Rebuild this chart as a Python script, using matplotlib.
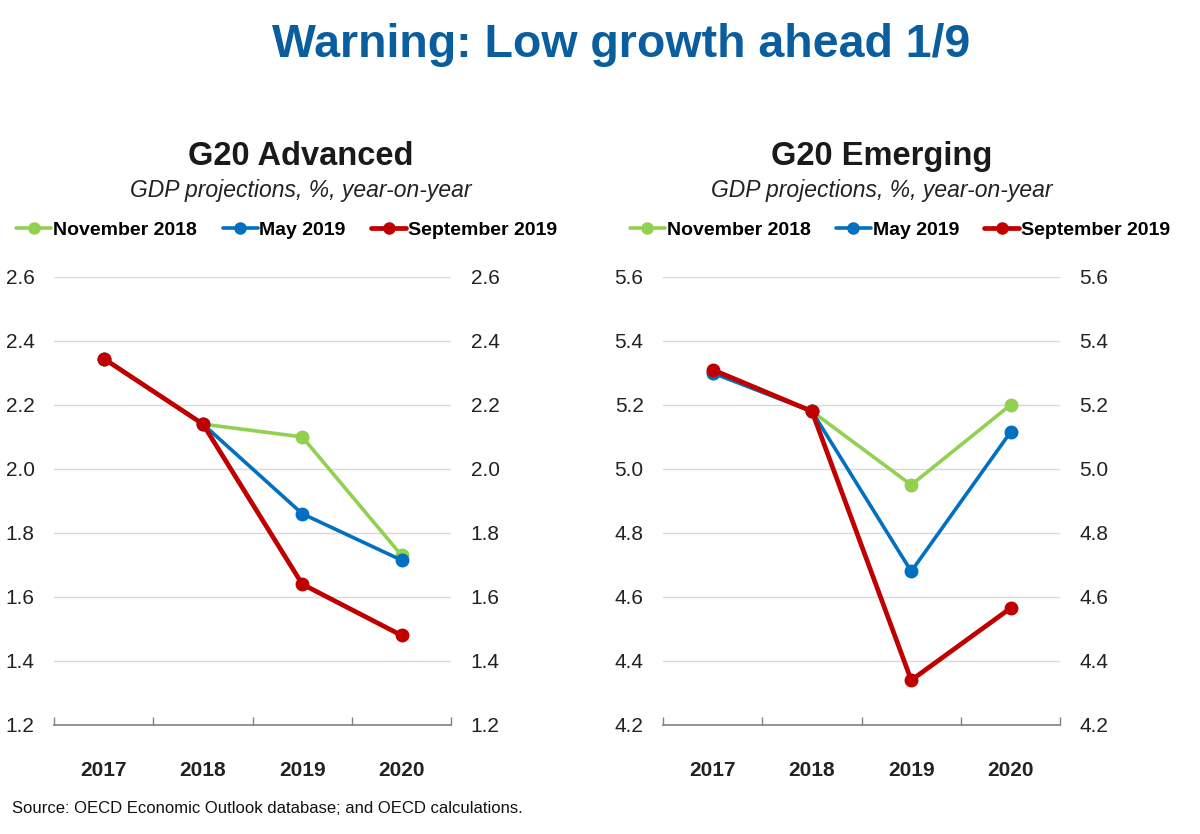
import matplotlib
matplotlib.use("Agg")
import matplotlib.pyplot as plt
from matplotlib.ticker import FixedLocator

NARROW = ["Liberation Sans Narrow", "Liberation Sans", "DejaVu Sans"]
WIDE = ["Liberation Sans", "DejaVu Sans"]

years = ["2017", "2018", "2019", "2020"]
series_names = ["November 2018", "May 2019", "September 2019"]

adv_nov18 = [2.345, 2.14, 2.10, 1.73]
adv_may19 = [2.345, 2.14, 1.86, 1.715]
adv_sep19 = [2.345, 2.14, 1.64, 1.48]

emg_nov18 = [5.30, 5.18, 4.95, 5.20]
emg_may19 = [5.30, 5.18, 4.68, 5.115]
emg_sep19 = [5.31, 5.18, 4.34, 4.565]

adv_ticks = [1.2, 1.4, 1.6, 1.8, 2.0, 2.2, 2.4, 2.6]
emg_ticks = [4.2, 4.4, 4.6, 4.8, 5.0, 5.2, 5.4, 5.6]

colors = ["#92D050", "#0070C0", "#C00000"]
widths = [2.6, 2.6, 3.4]

fig = plt.figure(figsize=(12, 8.34), dpi=100)

fig.text(0.518, 0.946, "Warning: Low growth ahead 1/9", ha="center", va="center",
         fontsize=33.5, fontweight="bold", color="#0B5E9E", family=WIDE)


def panel(left, title, cx, legx, data, ticks):
    ax = fig.add_axes([left, 0.1307, 0.331, 0.5373])
    x = list(range(len(years)))
    for vals, c, lw, name in zip(data, colors, widths, series_names):
        ax.plot(x, vals, color=c, lw=lw, marker="o", ms=9, label=name,
                solid_capstyle="round")
    ax.set_xlim(-0.5, 3.5)
    ax.set_ylim(ticks[0], ticks[-1])
    ax.set_yticks(ticks)
    ax.set_yticklabels(["%.1f" % t for t in ticks], family=NARROW, fontsize=15,
                       color="#222222")
    ax.yaxis.set_tick_params(labelleft=True, labelright=True, length=0, pad=14)
    ax.set_xticks(x)
    ax.set_xticklabels(years, family=NARROW, fontsize=15, fontweight="bold",
                       color="#222222")
    ax.xaxis.set_tick_params(which="major", length=0, pad=26)
    ax.xaxis.set_minor_locator(FixedLocator([-0.5, 0.5, 1.5, 2.5, 3.5]))
    ax.xaxis.set_tick_params(which="minor", direction="in", length=6,
                             color="#808080", width=1)
    for t in ticks[1:]:
        ax.axhline(t, color="#D9D9D9", lw=1, zorder=0)
    for s in ["top", "left", "right"]:
        ax.spines[s].set_visible(False)
    ax.spines["bottom"].set_color("#808080")
    ax.spines["bottom"].set_linewidth(1.2)

    fig.text(cx, 0.812, title, ha="center", va="center", fontsize=23.5,
             fontweight="bold", color="#1a1a1a", family=WIDE)
    fig.text(cx, 0.772, "GDP projections, %, year-on-year", ha="center",
             va="center", fontsize=16.5, style="italic", color="#222222", family=WIDE)
    leg = fig.legend(*ax.get_legend_handles_labels(), loc="center",
                     bbox_to_anchor=(legx, 0.724), ncol=3, frameon=False,
                     handlelength=1.8, handletextpad=0.1, columnspacing=1.3,
                     prop={"family": NARROW, "size": 14, "weight": "bold"})
    for h in leg.legend_handles:
        h.set_markersize(8)
    return ax


panel(0.045, "G20 Advanced", 0.251, 0.239, [adv_nov18, adv_may19, adv_sep19], adv_ticks)
panel(0.5525, "G20 Emerging", 0.735, 0.75, [emg_nov18, emg_may19, emg_sep19], emg_ticks)

fig.text(0.01, 0.031, "Source: OECD Economic Outlook database; and OECD calculations.",
         ha="left", va="center", fontsize=12, color="#111111", family=WIDE)

fig.savefig("out.png", dpi=100, facecolor="white")
